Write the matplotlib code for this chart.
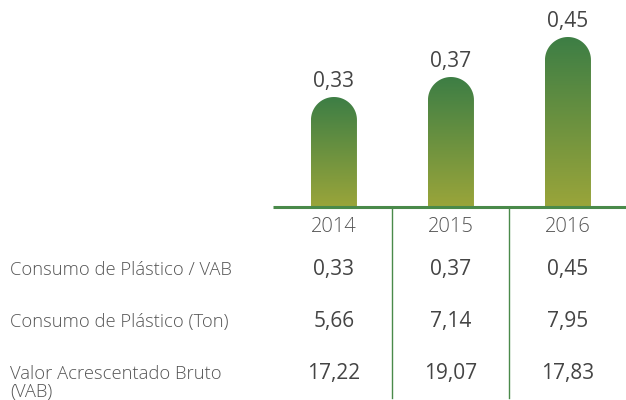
import matplotlib
matplotlib.use("Agg")
import matplotlib.pyplot as plt
import numpy as np
from matplotlib.path import Path
from matplotlib.patches import PathPatch
from matplotlib.colors import LinearSegmentedColormap
import matplotlib.transforms as mtransforms

plt.rcParams['font.family'] = ['Open Sans', 'DejaVu Sans']

years = ["2014", "2015", "2016"]
ratio = [0.33, 0.37, 0.45]
row_labels = [["Consumo de Plástico / VAB"], ["Consumo de Plástico (Ton)"],
              ["Valor Acrescentado Bruto", "(VAB)"]]
row_values = [["0,33", "0,37", "0,45"],
              ["5,66", "7,14", "7,95"],
              ["17,22", "19,07", "17,83"]]
bar_labels = ["0,33", "0,37", "0,45"]

W, H = 626, 400
fig = plt.figure(figsize=(W / 100, H / 100), dpi=100)
fig.patch.set_facecolor("white")

base_px = 207
ax = fig.add_axes([273 / W, (H - base_px) / H, 353 / W, base_px / H])
x = np.arange(len(years))
ymin = 0.11
ax.set_xlim(-0.521, 2.496)
ax.set_ylim(ymin, ymin + base_px / 500)
ax.axis("off")

green = "#4a8a4a"
cmap = LinearSegmentedColormap.from_list("g", ["#9aa53a", "#3d7e45"])
bw = 46 / 117  # bar width in data units
rx = bw / 2
ry = 23 / 500
for xi, v in zip(x, ratio):
    x0, x1 = xi - rx, xi + rx
    top_rect = v - ry
    t = np.linspace(0, np.pi, 40)
    arc = [(xi + rx * np.cos(a), top_rect + ry * np.sin(a)) for a in t]
    verts = [(x0, ymin), (x1, ymin)] + arc + [(x0, ymin)]
    codes = [Path.MOVETO] + [Path.LINETO] * (len(verts) - 2) + [Path.CLOSEPOLY]
    path = Path(verts, codes)
    patch = PathPatch(path, facecolor="none", edgecolor="none")
    ax.add_patch(patch)
    grad = np.linspace(0, 1, 256).reshape(-1, 1)
    im = ax.imshow(grad, cmap=cmap, extent=[x0, x1, ymin, v], origin="lower",
                   aspect="auto", interpolation="bicubic")
    im.set_clip_path(patch)
for xi, lab, v in zip(x, bar_labels, ratio):
    ax.annotate(lab, (xi, v), xytext=(0, 11), textcoords="offset points",
                ha="center", va="center", fontsize=15, color="#444444",
                annotation_clip=False)

# axis line
ax.plot([-0.521, 2.496], [ymin, ymin], color=green, lw=2.2, clip_on=False, solid_capstyle="butt")

# table area
trans = mtransforms.blended_transform_factory(ax.transData, fig.transFigure)
def fy(py):
    return (H - py) / H

for xi, yr in zip(x, years):
    ax.text(xi, fy(227), yr, transform=trans, ha="center", va="center",
            fontsize=14.5, color="#555555", fontweight="light")
for sep in [0.5, 1.5]:
    ax.plot([sep, sep], [fy(207), fy(398)], transform=trans, color=green, lw=1, clip_on=False)

row_y = [270, 322, 374]
for ry_, labs, vals in zip(row_y, row_labels, row_values):
    for k, lab in enumerate(labs):
        fig.text(10 / W, fy(ry_ + 18 * k), lab, ha="left", va="center", fontsize=13.2,
                 color="#555555", fontweight="light")
    for xi, val in zip(x, vals):
        ax.text(xi, fy(ry_), val, transform=trans, ha="center", va="center",
                fontsize=15, color="#444444")

fig.savefig("out.png", dpi=100, facecolor="white")
